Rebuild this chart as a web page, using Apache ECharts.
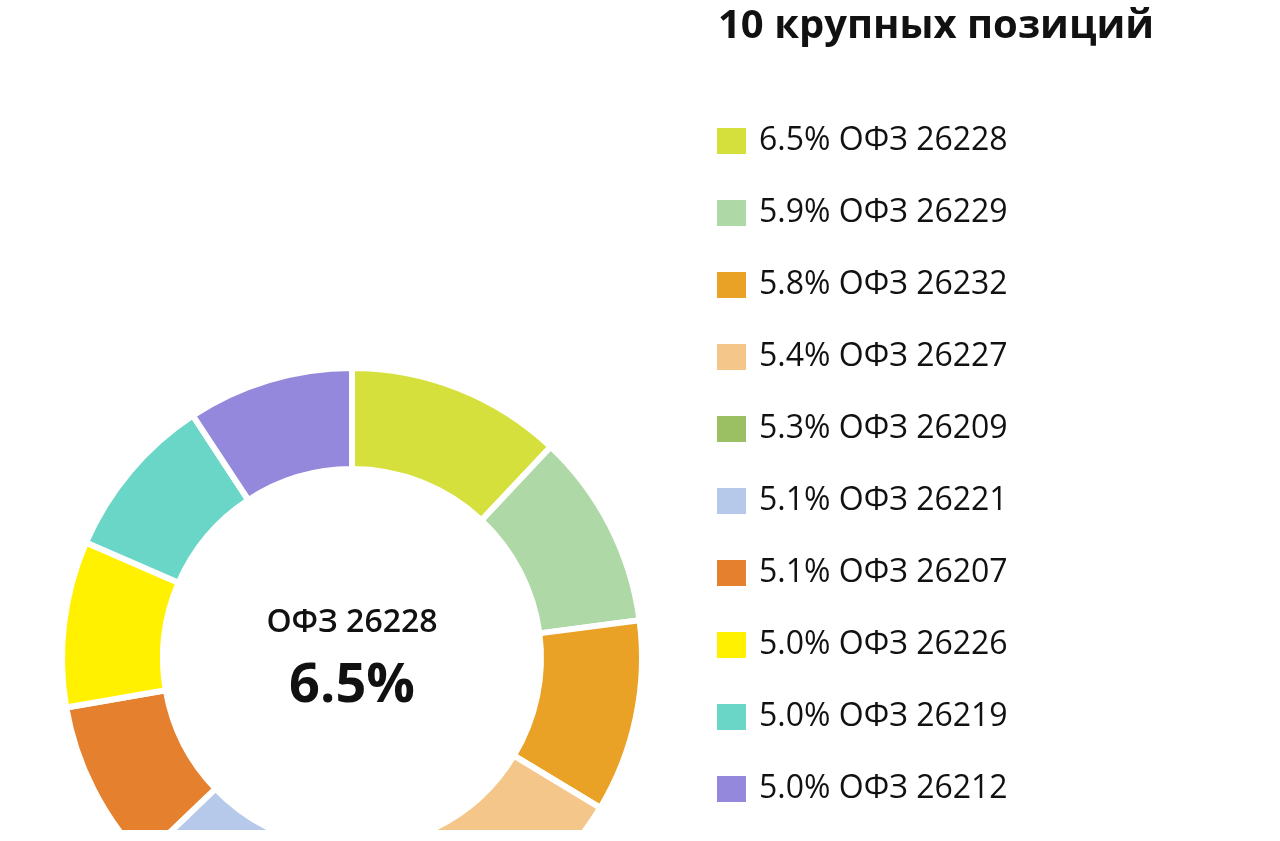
<!DOCTYPE html>
<html>
<head>
<meta charset="utf-8">
<script src="https://cdn.jsdelivr.net/npm/echarts@6/dist/echarts.min.js"></script>
<style>
html,body{margin:0;padding:0;background:#fff;}
#c{width:1280px;height:830px;}
</style>
</head>
<body>
<div id="c"></div>
<script>
const titleText = '10 крупных позиций';
const names = ['ОФЗ 26228','ОФЗ 26229','ОФЗ 26232','ОФЗ 26227','ОФЗ 26209','ОФЗ 26221','ОФЗ 26207','ОФЗ 26226','ОФЗ 26219','ОФЗ 26212'];
const values = [6.5, 5.9, 5.8, 5.4, 5.3, 5.1, 5.1, 5.0, 5.0, 5.0];
const colors = ['#D6E03D','#AED8A6','#E9A226','#F4C68A','#9BBF63','#B7C9EA','#E5802E','#FFF100','#69D6C8','#9388DB'];

const FONT = '"Open Sans", "Noto Sans", sans-serif';
const valueByName = {};
names.forEach((n,i)=>{ valueByName[n] = values[i]; });

const data = names.map((n,i)=>({
  name: n,
  value: values[i],
  label: i === 0 ? {
    show: true,
    position: 'center',
    formatter: '{a|' + n + '}\n{b|' + values[i].toFixed(1) + '%}',
    rich: {
      a: {fontFamily: FONT, fontSize: 32, fontWeight: 600, color: '#111', lineHeight: 58},
      b: {fontFamily: FONT, fontSize: 54, fontWeight: 'bold', color: '#111', lineHeight: 70}
    }
  } : {show: false}
}));

const chart = echarts.init(document.getElementById('c'), null, {renderer: 'canvas'});
chart.setOption({
  animation: false,
  color: colors,
  title: {
    text: titleText,
    left: 713,
    top: 2,
    textStyle: {fontFamily: FONT, fontSize: 40, fontWeight: 'bold', color: '#111'}
  },
  legend: {
    orient: 'vertical',
    left: 715,
    top: 125,
    height: 800,
    padding: 0,
    itemWidth: 31,
    itemHeight: 28,
    itemGap: 40,
    icon: 'rect',
    selectedMode: false,
    data: names,
    formatter: function(n){ return valueByName[n].toFixed(1) + '% ' + n; },
    textStyle: {fontFamily: FONT, fontSize: 32, color: '#111', padding: [0,0,0,7]}
  },
  series: [{
    type: 'pie',
    center: [352, 658],
    radius: [189, 290],
    startAngle: 90,
    clockwise: true,
    avoidLabelOverlap: false,
    labelLine: {show: false},
    emphasis: {disabled: true},
    itemStyle: {borderColor: '#fff', borderWidth: 6},
    data: data
  }]
});
</script>
</body>
</html>
